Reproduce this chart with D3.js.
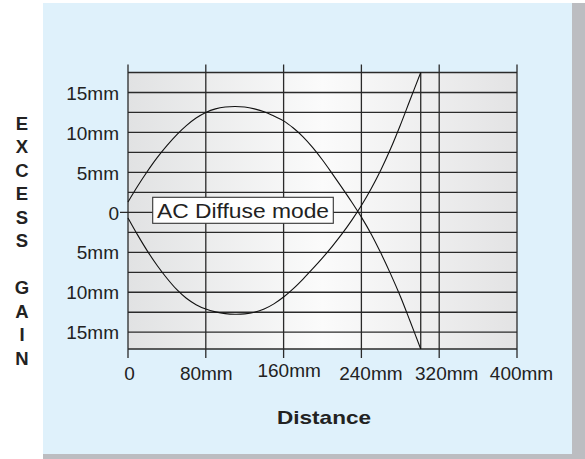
<!DOCTYPE html>
<html>
<head>
<meta charset="utf-8">
<script src="https://cdn.jsdelivr.net/npm/d3@7/dist/d3.min.js"></script>
<style>
  html, body { margin: 0; padding: 0; background: #ffffff; }
  svg { display: block; }
  text { font-family: "Liberation Sans", Arial, Helvetica, sans-serif; fill: #222; }
</style>
</head>
<body>
<script>
// ---------------- data ----------------
const distance = [0, 10, 20, 30, 40, 50, 60, 70, 80, 90, 100, 110, 120, 130, 140, 150,
                  160, 170, 180, 190, 200, 210, 220, 230, 240, 250, 260, 270, 280, 290, 301];
const upperGain = [1.3, 3.3, 5.15, 6.85, 8.35, 9.7, 10.85, 11.8, 12.5, 12.95, 13.18, 13.25, 13.18, 12.95, 12.6, 12.05,
                   11.45, 10.55, 9.45, 8.1, 6.55, 4.85, 3.1, 1.3, -0.6, -2.7, -5.1, -7.7, -10.5, -13.6, -17.1];
const lowerGain = [-0.7, -2.85, -4.85, -6.65, -8.25, -9.65, -10.75, -11.55, -12.1, -12.45, -12.67, -12.75, -12.7, -12.5, -12.1, -11.45,
                   -10.6, -9.55, -8.35, -7.05, -5.7, -4.25, -2.7, -1.0, 0.85, 2.95, 5.3, 7.95, 10.9, 14.05, 17.5];
const xTicks = [0, 80, 160, 240, 320, 400];
const xTickLabels = ["0", "80mm", "160mm", "240mm", "320mm", "400mm"];
const yTicks = [15, 10, 5, 0, -5, -10, -15];
const yTickLabels = ["15mm", "10mm", "5mm", "0", "5mm", "10mm", "15mm"];
const yGridLines = [15, 12.5, 10, 7.5, 5, 2.5, 0, -2.5, -5, -7.5, -10, -12.5, -15];
const yDomain = [-17.1, 17.5];
const xDomain = [0, 400];
const yTitleLetters = ["E", "X", "C", "E", "S", "S", "", "G", "A", "I", "N"];
const xTitle = "Distance";
const annotation = "AC Diffuse mode";

// ---------------- layout ----------------
const W = 585, H = 459;
const plot = { left: 128, right: 517, top: 72.5, bottom: 349 };

const svg = d3.select("body").append("svg").attr("width", W).attr("height", H);

// panel + shadow
svg.append("rect").attr("x", 43).attr("y", 3).attr("width", W - 43).attr("height", H - 3).attr("fill", "#bcbdc1");
svg.append("rect").attr("x", 43).attr("y", 3).attr("width", 572 - 43).attr("height", 454 - 3).attr("fill", "#dff1fb");

const x = d3.scaleLinear().domain(xDomain).range([plot.left, plot.right]);
const y = d3.scaleLinear().domain(yDomain).range([plot.bottom, plot.top]);

// gradient background
const defs = svg.append("defs");
const grad = defs.append("linearGradient").attr("id", "bg").attr("x1", "0").attr("x2", "1").attr("y1", "0").attr("y2", "0");
grad.append("stop").attr("offset", "0%").attr("stop-color", "#e1e2e3");
grad.append("stop").attr("offset", "50%").attr("stop-color", "#fbfbfb");
grad.append("stop").attr("offset", "100%").attr("stop-color", "#e3e3e4");
svg.append("rect")
  .attr("x", plot.left).attr("y", plot.top)
  .attr("width", plot.right - plot.left).attr("height", plot.bottom - plot.top)
  .attr("fill", "url(#bg)");

const gridColor = "#2a2a2a";

// horizontal grid lines
const hg = svg.append("g");
hg.selectAll("line").data(yGridLines.concat(yDomain)).join("line")
  .attr("x1", d => d === 0 ? plot.left - 8 : plot.left)
  .attr("x2", plot.right)
  .attr("y1", d => y(d)).attr("y2", d => y(d))
  .attr("stroke", gridColor).attr("stroke-width", 1.3);

// vertical grid lines with tick extensions
const vg = svg.append("g");
vg.selectAll("line").data(xTicks).join("line")
  .attr("x1", d => x(d)).attr("x2", d => x(d))
  .attr("y1", plot.top - 8).attr("y2", plot.bottom + 9)
  .attr("stroke", gridColor).attr("stroke-width", 1.3);
// end-of-range line
const xEnd = distance[distance.length - 1];
svg.append("line")
  .attr("x1", x(xEnd)).attr("x2", x(xEnd))
  .attr("y1", plot.top).attr("y2", plot.bottom)
  .attr("stroke", gridColor).attr("stroke-width", 1.3);

// curves
const line = d3.line().x(d => x(d[0])).y(d => y(d[1])).curve(d3.curveCatmullRom.alpha(0.5));
svg.append("path").datum(distance.map((d, i) => [d, upperGain[i]]))
  .attr("d", line).attr("fill", "none").attr("stroke", "#111").attr("stroke-width", 1.1);
svg.append("path").datum(distance.map((d, i) => [d, lowerGain[i]]))
  .attr("d", line).attr("fill", "none").attr("stroke", "#111").attr("stroke-width", 1.1);

// x axis labels
const xNudge = [1, 0, 5, 9, 7, 4];
const xNudgeY = [0, 0, -3, 0, 0, 0];
const xAxis = d3.axisBottom(x).tickValues(xTicks).tickFormat((d, i) => xTickLabels[i]).tickSize(0);
const gx = svg.append("g").attr("transform", `translate(0,${plot.bottom})`).call(xAxis);
gx.select(".domain").remove();
gx.selectAll("text")
  .attr("font-size", 19).attr("fill", "#222")
  .attr("y", (d, i) => 18 + xNudgeY[i]).attr("dy", "0.71em")
  .attr("dx", (d, i) => xNudge[i]);

// y axis labels
const yAxis = d3.axisLeft(y).tickValues(yTicks).tickFormat((d, i) => yTickLabels[i]).tickSize(0).tickPadding(9);
const gy = svg.append("g").attr("transform", `translate(${plot.left},0)`).call(yAxis);
gy.select(".domain").remove();
gy.selectAll("text").attr("font-size", 19).attr("fill", "#222").attr("dy", "0.35em");

// y title (stacked letters)
svg.append("g").selectAll("text").data(yTitleLetters).join("text")
  .attr("x", 22).attr("y", (d, i) => 123 + i * 23.5).attr("dy", "0.36em")
  .attr("text-anchor", "middle").attr("font-weight", "bold").attr("font-size", 18.5)
  .text(d => d);

// x title
svg.append("text")
  .attr("x", 324).attr("y", 417).attr("dy", "0.36em")
  .attr("text-anchor", "middle").attr("font-weight", "bold").attr("font-size", 18.5)
  .attr("textLength", 94).attr("lengthAdjust", "spacingAndGlyphs")
  .text(xTitle);

// annotation box
const bx = 152.7, by = 197.3, bw = 180.6, bh = 26;
svg.append("rect").attr("x", bx).attr("y", by).attr("width", bw).attr("height", bh)
  .attr("fill", "#ffffff").attr("stroke", "#333").attr("stroke-width", 1.1);
svg.append("text")
  .attr("x", bx + bw / 2).attr("y", by + 21)
  .attr("text-anchor", "middle").attr("font-size", 20)
  .attr("textLength", 172).attr("lengthAdjust", "spacingAndGlyphs")
  .text(annotation);
</script>
</body>
</html>
